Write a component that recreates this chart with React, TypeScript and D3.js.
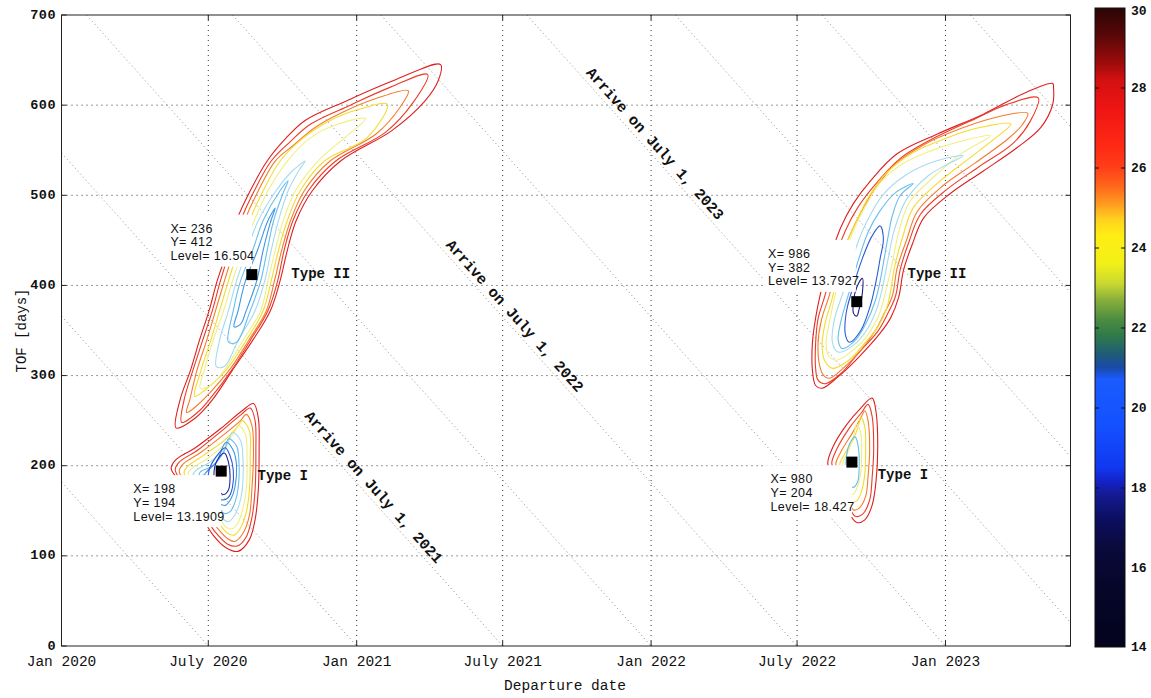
import React from 'react';
import * as d3 from 'd3';

type Pt = [number, number];
type Ring = { level: number; pts: Pt[] };

// ---------- axes data ----------
const departureTicks = [0, 182, 366, 547, 731, 912, 1096];
const departureTickLabels = ['Jan 2020', 'July 2020', 'Jan 2021', 'July 2021', 'Jan 2022', 'July 2022', 'Jan 2023'];
const tofTicks = [0, 100, 200, 300, 400, 500, 600, 700];
const arrivalLines = [182, 366, 547, 731, 912, 1096, 1277, 1461, 1643, 1827];
const arrivalLabelText = ['Arrive on July 1, 2021', 'Arrive on July 1, 2022', 'Arrive on July 1, 2023'];
const arrivalLabelArrive = [547, 912, 1277];
const arrivalLabelDep = [378, 553, 727];

// ---------- contour rings (departure day, TOF days) ----------
const typeII2020: Ring[] = [
  { level: 28, pts: [[470,645],[411,627],[354,605],[302,583],[278,563],[255,538],[234,505],[217,472],[206,439],[193,405],[183,372],[171,339],[160,306],[147,273],[142,242],[166,253],[187,273],[212,306],[237,339],[259,372],[271,405],[280,439],[291,472],[311,505],[346,538],[410,572],[451,605],[467,627]] },
  { level: 27, pts: [[454,634],[408,620],[358,600],[309,579],[283,559],[260,538],[239,505],[222,472],[209,439],[197,405],[187,372],[175,339],[163,306],[152,273],[149,248],[171,261],[183,273],[211,306],[234,339],[256,372],[268,405],[276,439],[287,472],[306,505],[340,538],[402,570],[436,603]] },
  { level: 26, pts: [[430,616],[389,607],[346,591],[314,575],[287,555],[265,538],[244,505],[227,472],[214,439],[202,405],[191,372],[180,339],[168,306],[159,273],[155,259],[167,266],[208,306],[232,339],[254,372],[264,405],[273,439],[284,472],[301,505],[333,538],[390,568],[420,598]] },
  { level: 24, pts: [[404,601],[371,596],[333,583],[296,561],[271,538],[250,505],[233,472],[219,439],[207,405],[196,372],[185,339],[173,306],[165,277],[178,284],[204,306],[229,339],[250,372],[260,405],[269,439],[280,472],[296,505],[326,538],[379,564]] },
  { level: 23, pts: [[377,585],[343,579],[309,564],[280,538],[256,505],[239,472],[225,439],[212,405],[201,372],[188,339],[177,306],[172,286],[185,289],[202,306],[225,339],[247,372],[256,405],[265,439],[275,472],[290,505],[318,538],[354,566]] },
  { level: 21, pts: [[302,538],[284,525],[266,505],[244,472],[230,439],[217,405],[207,372],[196,339],[192,310],[202,310],[219,339],[240,372],[252,405],[260,439],[269,472],[281,505],[294,527]] },
  { level: 20, pts: [[281,516],[271,505],[250,472],[237,439],[222,405],[213,372],[207,337],[217,337],[234,372],[247,405],[255,439],[263,472],[275,503]] },
  { level: 19, pts: [[265,486],[256,472],[243,439],[228,405],[219,372],[214,354],[222,357],[229,372],[242,405],[250,439],[259,470]] },
];

const typeI2020: Ring[] = [
  { level: 28, pts: [[238,269],[244,253],[245,217],[244,173],[240,140],[233,118],[219,105],[204,109],[188,123],[166,156],[145,184],[136,197],[141,206],[166,220],[197,241],[224,261]] },
  { level: 27, pts: [[234,264],[240,250],[241,217],[240,173],[236,142],[229,121],[218,111],[206,113],[191,126],[168,157],[148,183],[141,196],[146,204],[170,218],[199,239],[223,257]] },
  { level: 26, pts: [[229,257],[236,245],[238,215],[236,173],[233,145],[225,125],[215,116],[206,119],[193,131],[172,158],[153,182],[146,194],[151,202],[173,215],[202,235],[222,250]] },
  { level: 24, pts: [[224,250],[233,239],[234,212],[233,173],[229,148],[222,131],[214,123],[206,125],[196,135],[176,159],[158,182],[152,193],[156,199],[177,212],[203,229],[219,244]] },
  { level: 23, pts: [[219,245],[228,235],[230,209],[229,173],[225,153],[219,137],[212,130],[204,132],[197,141],[180,162],[163,182],[157,192],[162,197],[181,208],[204,225],[215,238]] },
  { level: 21, pts: [[212,237],[222,228],[225,206],[224,173],[220,156],[214,144],[207,138],[199,142],[187,162],[172,178],[163,189],[167,195],[184,204],[204,221]] },
  { level: 20, pts: [[207,230],[217,222],[220,204],[219,175],[215,159],[209,149],[202,147],[194,155],[182,171],[171,185],[172,193],[188,200],[202,217]] },
  { level: 19, pts: [[204,226],[213,217],[217,200],[215,176],[210,163],[203,156],[194,159],[184,171],[176,183],[178,191],[192,204]] },
  { level: 18, pts: [[203,220],[209,211],[213,195],[212,176],[207,165],[199,162],[191,167],[183,179],[183,195],[191,209]] },
  { level: 17, pts: [[202,214],[207,204],[209,188],[207,173],[201,168],[193,175],[189,189],[193,206]] },
];

const typeII2022: Ring[] = [
  { level: 28, pts: [[1229,624],[1193,613],[1143,590],[1086,568],[1036,546],[1003,516],[982,491],[966,464],[951,425],[941,391],[935,364],[931,336],[931,306],[935,289],[943,286],[962,298],[988,320],[1015,347],[1028,364],[1038,387],[1044,417],[1055,446],[1069,475],[1102,502],[1143,527],[1185,553],[1214,575],[1229,601],[1230,619]] },
  { level: 27, pts: [[1211,608],[1170,600],[1133,585],[1083,564],[1040,541],[1009,512],[987,486],[972,461],[957,425],[947,390],[938,363],[935,336],[935,308],[938,295],[947,291],[966,302],[988,325],[1012,349],[1024,368],[1034,388],[1040,418],[1051,449],[1065,479],[1097,506],[1138,532],[1179,557],[1201,582]] },
  { level: 26, pts: [[1198,591],[1152,585],[1115,574],[1071,557],[1034,535],[1007,505],[991,481],[977,455],[962,422],[952,389],[942,361],[938,336],[940,311],[945,300],[952,297],[969,308],[991,328],[1009,350],[1020,369],[1030,388],[1036,419],[1048,451],[1061,482],[1092,510],[1133,536],[1174,563],[1191,578]] },
  { level: 24, pts: [[1177,579],[1133,574],[1096,563],[1055,547],[1023,525],[1000,497],[986,472],[973,446],[963,419],[956,387],[947,359],[943,333],[946,317],[956,308],[976,317],[996,336],[1012,354],[1022,372],[1027,389],[1033,421],[1043,454],[1056,486],[1087,514],[1127,542],[1160,565]] },
  { level: 23, pts: [[1152,566],[1115,560],[1077,549],[1043,535],[1015,514],[997,488],[982,461],[971,433],[962,400],[952,359],[948,336],[951,322],[961,317],[978,326],[998,343],[1013,366],[1019,383],[1030,425],[1038,459],[1051,492],[1081,520],[1117,547]] },
  { level: 21, pts: [[1118,544],[1084,538],[1046,522],[1018,500],[998,470],[984,439],[972,400],[958,361],[956,336],[963,326],[981,333],[998,350],[1010,372],[1017,394],[1025,430],[1033,463],[1048,496],[1075,522],[1102,536]] },
  { level: 20, pts: [[1056,513],[1034,503],[1015,483],[1000,459],[988,428],[977,394],[966,359],[963,339],[968,330],[984,339],[998,359],[1009,383],[1015,405],[1020,430],[1025,455],[1030,477],[1040,500]] },
  { level: 18, pts: [[1015,466],[1005,455],[993,430],[982,400],[973,370],[972,345],[977,337],[991,350],[1003,378],[1010,405],[1015,430],[1019,452]] },
  { level: 16, pts: [[993,408],[986,398],[982,383],[982,369],[986,366],[989,374],[993,392]] },
];

const typeI2022: Ring[] = [
  { level: 28, pts: [[1005,275],[1010,259],[1012,220],[1010,184],[1005,156],[996,140],[986,137],[976,148],[966,173],[953,195],[950,203],[956,220],[973,245],[991,264]] },
  { level: 27, pts: [[1000,268],[1005,255],[1007,220],[1005,186],[1002,162],[993,146],[984,144],[977,154],[968,175],[958,195],[955,203],[961,218],[977,242],[992,259]] },
  { level: 26, pts: [[996,261],[1000,250],[1002,219],[1000,188],[997,166],[989,153],[982,151],[976,160],[969,177],[962,195],[960,202],[966,215],[981,237],[991,253]] },
  { level: 24, pts: [[991,254],[996,243],[997,217],[996,191],[992,172],[986,161],[979,160],[974,167],[969,182],[966,195],[965,202],[971,213],[982,230],[988,244]] },
  { level: 23, pts: [[986,246],[991,236],[992,215],[991,193],[987,177],[981,168],[976,170],[972,182],[969,195],[969,204],[976,217],[982,233]] },
  { level: 20, pts: [[984,232],[977,224],[973,208],[974,189],[981,176],[987,182],[989,201],[988,220]] },
];

// ---------- minima / data tips ----------
const minDep = [236, 198, 986, 980];
const minTof = [412, 194, 382, 204];
const minLevel = ['16.504', '13.1909', '13.7927', '18.427'];
const tipAnchorDep = [135, 89, 876, 879];
const tipAnchorTof = [463, 174, 435, 185];
const typeLabels = ['Type II', 'Type I', 'Type II', 'Type I'];
const typeLabelDep = [285, 243, 1049, 1012];
const typeLabelTof = [408, 184, 408, 185];

// ---------- colors ----------
const contourLevels = [16, 17, 18, 19, 20, 21, 23, 24, 25, 26, 27, 28];
const contourColors = ['#1b1b80', '#1f2aa0', '#2a5ad4', '#3e96e2', '#68bdec', '#a5dbf0', '#f2ee84', '#f3dc2c', '#f7b12e', '#f57a2c', '#ec3b26', '#de1f1f'];

const colorbarValues = [30, 29.3, 28.6, 28.2, 27.5, 26.5, 26, 25.5, 25.1, 24.7, 24.3, 23.6, 23.1, 22.7, 22.2, 21.8, 21.3, 21.0, 20.7, 19.5, 18.5, 18.1, 17.8, 17.2, 16.5, 15.5, 14];
const colorbarColors = ['#2a0505', '#5a0808', '#a00c0c', '#d41010', '#ee1414', '#ff2a14', '#ff3f18', '#ff6a1c', '#ff9a20', '#ffd21e', '#ffee14', '#f2f018', '#c8d830', '#8ab03c', '#4c8c40', '#2f7a4a', '#1e5a7a', '#1a4aa8', '#1a5cff', '#1450ff', '#1038f0', '#1420c0', '#141a90', '#0c0e60', '#0a0a3c', '#06062a', '#04041e'];
const colorbarTicks = [14, 16, 18, 20, 22, 24, 26, 28, 30];

const MONO = "'Liberation Mono', 'Courier New', monospace";
const SANS = "'Liberation Sans', Arial, sans-serif";

export default function App() {
  const L = 61.5, R = 1070.5, T = 15, B = 646;
  const x = d3.scaleLinear().domain([0, 1251]).range([L, R]);
  const y = d3.scaleLinear().domain([0, 700]).range([B, T]);
  const cb = d3.scaleLinear().domain([14, 30]).range([648, 8]);
  const colorOf = d3.scaleOrdinal<number, string>().domain(contourLevels).range(contourColors);
  const ringPath = d3.line<Pt>().x(d => x(d[0])).y(d => y(d[1])).curve(d3.curveCatmullRomClosed.alpha(0.5));

  const allRings = [...typeII2020, ...typeI2020, ...typeII2022, ...typeI2022];
  const angle = (Math.atan2(y(0) - y(1), x(1) - x(0)) * 180) / Math.PI;

  const cbX = 1095, cbW = 30, cbTop = 8, cbBot = 647;

  return (
    <svg width={1151} height={698} style={{ position: 'absolute', left: 0, top: 0, background: '#fff' }}>
      <defs>
        <clipPath id="plotclip">
          <rect x={L} y={T} width={R - L} height={B - T} />
        </clipPath>
        <linearGradient id="cbgrad" x1="0" y1="0" x2="0" y2="1">
          {colorbarValues.map((v, i) => (
            <stop key={i} offset={(30 - v) / 16} stopColor={colorbarColors[i]} />
          ))}
        </linearGradient>
      </defs>
      <rect x={0} y={0} width={1151} height={698} fill="#fff" />

      {/* grid */}
      <g stroke="#333" strokeWidth={1} strokeDasharray="1,4">
        {departureTicks.slice(1).map((d, i) => (
          <line key={'vx' + i} x1={x(d)} x2={x(d)} y1={T} y2={B} />
        ))}
        {tofTicks.slice(1, -1).map((t, i) => (
          <line key={'hy' + i} x1={L} x2={R} y1={y(t)} y2={y(t)} />
        ))}
      </g>

      {/* arrival-date diagonals */}
      <g clipPath="url(#plotclip)" stroke="#8a8a8a" strokeWidth={1} strokeDasharray="1,3">
        {arrivalLines.map((a, i) => {
          const d0 = Math.max(0, a - 700);
          const d1 = Math.min(1251, a);
          return <line key={'ar' + i} x1={x(d0)} y1={y(a - d0)} x2={x(d1)} y2={y(a - d1)} />;
        })}
      </g>

      {/* contours */}
      <g clipPath="url(#plotclip)" fill="none" strokeWidth={1.1}>
        {allRings.map((r, i) => (
          <path key={'c' + i} d={ringPath(r.pts) || ''} stroke={colorOf(r.level)} />
        ))}
      </g>

      {/* data tips */}
      {minDep.map((d, i) => {
        const ax = x(tipAnchorDep[i]);
        const ay = y(tipAnchorTof[i]);
        const lines = ['X= ' + d, 'Y= ' + minTof[i], 'Level= ' + minLevel[i]];
        const maxLen = Math.max(...lines.map(s => s.length));
        return (
          <g key={'tip' + i}>
            <rect x={ax - 5} y={ay - 14} width={maxLen * 6.2 + 6} height={52} fill="#fff" />
            {lines.map((s, k) => (
              <text key={k} x={ax} y={ay + k * 13.7} dominantBaseline="central" fontFamily={SANS} fontSize={12.5} letterSpacing={0.4} fill="#111">
                {s}
              </text>
            ))}
          </g>
        );
      })}

      {/* minima markers */}
      {minDep.map((d, i) => (
        <rect key={'m' + i} x={x(d) - 5.5} y={y(minTof[i]) - 5.5} width={11} height={11} fill="#000" />
      ))}

      {/* type labels */}
      {typeLabels.map((s, i) => (
        <text key={'tl' + i} x={x(typeLabelDep[i])} y={y(typeLabelTof[i])} fontFamily={MONO} fontWeight="bold" fontSize={14} fill="#111">
          {s}
        </text>
      ))}

      {/* arrival labels */}
      {arrivalLabelText.map((s, i) => {
        const d = arrivalLabelDep[i];
        const px = x(d), py = y(arrivalLabelArrive[i] - d);
        return (
          <text key={'al' + i} transform={`translate(${px},${py}) rotate(${angle})`} textAnchor="middle" dy={-5} fontFamily={MONO} fontWeight="bold" fontSize={15} fill="#111">
            {s}
          </text>
        );
      })}

      {/* frame and ticks */}
      <rect x={L} y={T} width={R - L} height={B - T} fill="none" stroke="#222" strokeWidth={1} />
      <g stroke="#222" strokeWidth={1}>
        {departureTicks.map((d, i) => (
          <g key={'xt' + i}>
            <line x1={x(d)} x2={x(d)} y1={B} y2={B - 5} />
            <line x1={x(d)} x2={x(d)} y1={T} y2={T + 5} />
          </g>
        ))}
        {tofTicks.map((t, i) => (
          <g key={'yt' + i}>
            <line x1={L} x2={L + 5} y1={y(t)} y2={y(t)} />
            <line x1={R} x2={R - 5} y1={y(t)} y2={y(t)} />
          </g>
        ))}
      </g>
      {departureTickLabels.map((s, i) => (
        <text key={'xl' + i} x={x(departureTicks[i])} y={662} textAnchor="middle" dominantBaseline="central" fontFamily={MONO} fontSize={14.5} fill="#111">
          {s}
        </text>
      ))}
      {tofTicks.map((t, i) => (
        <text key={'yl' + i} x={56} y={y(t)} textAnchor="end" dominantBaseline="central" fontFamily={MONO} fontWeight="bold" fontSize={13.5} letterSpacing={0.5} fill="#111">
          {t}
        </text>
      ))}
      <text x={565} y={686} textAnchor="middle" dominantBaseline="central" fontFamily={MONO} fontSize={14.5} fill="#111">
        Departure date
      </text>
      <text transform={`translate(22,${(T + B) / 2}) rotate(-90)`} textAnchor="middle" dominantBaseline="central" fontFamily={MONO} fontSize={14} fill="#111">
        TOF [days]
      </text>

      {/* colorbar */}
      <rect x={cbX} y={cbTop} width={cbW} height={cbBot - cbTop} fill="url(#cbgrad)" stroke="#111" strokeWidth={1} />
      <g stroke="#111" strokeWidth={1}>
        {colorbarTicks.slice(1, -1).map((v, i) => (
          <g key={'cbt' + i}>
            <line x1={cbX} x2={cbX + 4} y1={cb(v)} y2={cb(v)} />
            <line x1={cbX + cbW} x2={cbX + cbW - 4} y1={cb(v)} y2={cb(v)} />
          </g>
        ))}
      </g>
      {colorbarTicks.map((v, i) => (
        <text key={'cbl' + i} x={1131} y={v === 30 ? 11 : v === 14 ? 647 : cb(v)} dominantBaseline="central" fontFamily={MONO} fontWeight="bold" fontSize={13} fill="#111">
          {v}
        </text>
      ))}
    </svg>
  );
}
